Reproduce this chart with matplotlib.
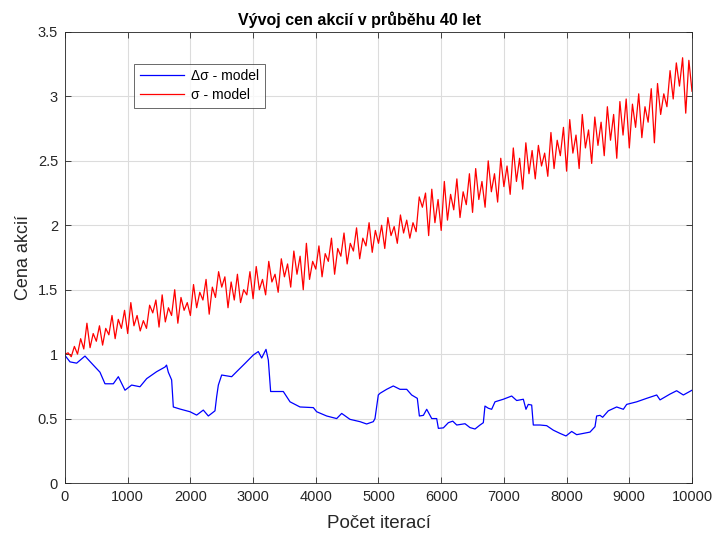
import numpy as np
import matplotlib
matplotlib.use("Agg")
import matplotlib.pyplot as plt

plt.rcParams['font.family'] = ['Liberation Sans', 'DejaVu Sans']

# sigma - model (red), sampled every 50 iterations
red_step = 50
red_vals = [
    1.00, 1.01, 0.98, 1.06, 1.00, 1.12, 1.04, 1.24, 1.05, 1.16,
    1.10, 1.22, 1.07, 1.20, 1.15, 1.30, 1.12, 1.27, 1.20, 1.34,
    1.16, 1.40, 1.22, 1.30, 1.18, 1.26, 1.20, 1.38, 1.32, 1.42,
    1.21, 1.46, 1.25, 1.36, 1.30, 1.50, 1.24, 1.44, 1.34, 1.40,
    1.30, 1.54, 1.36, 1.48, 1.42, 1.58, 1.31, 1.52, 1.44, 1.64,
    1.52, 1.60, 1.36, 1.56, 1.42, 1.62, 1.40, 1.50, 1.46, 1.64,
    1.43, 1.68, 1.50, 1.58, 1.46, 1.72, 1.56, 1.62, 1.48, 1.74,
    1.60, 1.70, 1.52, 1.80, 1.62, 1.76, 1.50, 1.86, 1.58, 1.72,
    1.66, 1.84, 1.60, 1.78, 1.72, 1.90, 1.62, 1.82, 1.76, 1.94,
    1.70, 1.86, 1.80, 1.98, 1.74, 1.90, 1.84, 2.02, 1.79, 1.96,
    1.86, 2.00, 1.82, 2.06, 1.92, 1.99, 1.86, 2.08, 1.94, 2.04,
    1.90, 2.02, 1.95, 2.22, 2.14, 2.25, 1.92, 2.28, 2.02, 2.20,
    1.96, 2.34, 2.04, 2.24, 2.12, 2.36, 2.06, 2.26, 2.16, 2.40,
    2.10, 2.44, 2.20, 2.34, 2.14, 2.50, 2.26, 2.40, 2.18, 2.52,
    2.30, 2.46, 2.24, 2.60, 2.34, 2.52, 2.28, 2.64, 2.40, 2.58,
    2.36, 2.62, 2.46, 2.56, 2.38, 2.72, 2.44, 2.66, 2.54, 2.76,
    2.42, 2.82, 2.56, 2.70, 2.44, 2.86, 2.60, 2.74, 2.48, 2.84,
    2.62, 2.80, 2.54, 2.92, 2.66, 2.86, 2.52, 2.96, 2.70, 2.98,
    2.60, 2.94, 2.76, 3.02, 2.68, 2.92, 2.80, 3.06, 2.64, 3.10,
    2.86, 3.02, 2.92, 3.20, 2.98, 3.26, 3.08, 3.30, 2.87, 3.28,
    3.04,
]

# delta sigma - model (blue)
blue_x = [0, 80, 186, 319, 452, 558, 638, 771, 851, 957, 1063, 1196, 1303, 1462,
          1595, 1620, 1648, 1701, 1728, 1834, 1994, 2100, 2206, 2286, 2392, 2419,
          2446, 2499, 2658, 2738, 2871, 3003, 3083, 3137, 3206, 3243, 3280, 3376,
          3482, 3589, 3748, 3961, 4014, 4174, 4333, 4413, 4545, 4705, 4811, 4917,
          4944, 4997, 5024, 5130, 5236, 5343, 5450, 5529, 5619, 5652, 5716, 5769,
          5849, 5928, 5955, 6035, 6114, 6184, 6248, 6380, 6459, 6539, 6619, 6672,
          6698, 6752, 6805, 6858, 6991, 7124, 7204, 7310, 7352, 7389, 7443, 7469,
          7576, 7682, 7788, 7895, 7990, 8081, 8161, 8267, 8373, 8453, 8479, 8533,
          8575, 8665, 8798, 8905, 8958, 9118, 9277, 9437, 9490, 9649, 9755, 9862,
          10000]
blue_y = [0.99, 0.94, 0.93, 0.985, 0.915, 0.86, 0.77, 0.77, 0.825, 0.72, 0.76,
          0.747, 0.81, 0.864, 0.90, 0.915, 0.86, 0.80, 0.59, 0.574, 0.553, 0.527,
          0.566, 0.52, 0.56, 0.67, 0.76, 0.838, 0.825, 0.864, 0.928, 0.993, 1.02,
          0.97, 1.037, 0.954, 0.71, 0.71, 0.71, 0.63, 0.59, 0.585, 0.553, 0.52,
          0.50, 0.54, 0.494, 0.476, 0.458, 0.476, 0.50, 0.683, 0.696, 0.727,
          0.753, 0.727, 0.727, 0.683, 0.657, 0.52, 0.525, 0.572, 0.50, 0.50,
          0.424, 0.428, 0.468, 0.48, 0.45, 0.46, 0.43, 0.419, 0.45, 0.468, 0.597,
          0.58, 0.572, 0.63, 0.65, 0.675, 0.64, 0.65, 0.572, 0.61, 0.605, 0.45,
          0.45, 0.445, 0.41, 0.385, 0.365, 0.40, 0.375, 0.385, 0.395, 0.437, 0.52,
          0.525, 0.51, 0.56, 0.59, 0.572, 0.61, 0.63, 0.657, 0.683, 0.645, 0.69,
          0.716, 0.683, 0.72]

xticks = [0, 1000, 2000, 3000, 4000, 5000, 6000, 7000, 8000, 9000, 10000]
yticks = [0, 0.5, 1, 1.5, 2, 2.5, 3, 3.5]
ytick_labels = ['0', '0.5', '1', '1.5', '2', '2.5', '3', '3.5']

red_x = np.arange(len(red_vals)) * red_step

fig = plt.figure(figsize=(7.18, 5.33), dpi=100)
ax = fig.add_axes([0.0905, 0.0938, 0.8733, 0.8462])

ax.plot(blue_x, blue_y, color='#0000ff', lw=0.9, label='Δσ - model')
ax.plot(red_x, red_vals, color='#ff0000', lw=0.9, label='σ - model')

ax.set_xlim(0, 10000)
ax.set_ylim(0, 3.5)
ax.set_xticks(xticks)
ax.set_xticklabels([str(t) for t in xticks])
ax.set_yticks(yticks)
ax.set_yticklabels(ytick_labels)
ax.grid(True, color='#dcdcdc', lw=0.8)
ax.set_axisbelow(True)
for s in ax.spines.values():
    s.set_color('#262626')
    s.set_linewidth(0.6)
ax.tick_params(direction='in', length=4, width=0.6, colors='#262626',
               labelsize=10.5, top=True, right=True, pad=5)

ax.set_xlabel('Počet iterací', fontsize=13.5, color='#262626', labelpad=8)
ax.set_ylabel('Cena akcií', fontsize=13, color='#262626', labelpad=4)
fig.text(359.5 / 718, 1 - 20 / 533, 'Vývoj cen akcií v průběhu 40 let',
         fontsize=11.5, fontweight='bold', ha='center', va='center')

leg = ax.legend(loc='upper left', bbox_to_anchor=(0.11, 0.93), fontsize=10,
                frameon=True, fancybox=False, edgecolor='#262626',
                handlelength=3.2, borderpad=0.4, labelspacing=0.35,
                handletextpad=0.5, borderaxespad=0)
leg.get_frame().set_linewidth(0.6)

fig.savefig('out.png', dpi=100)
